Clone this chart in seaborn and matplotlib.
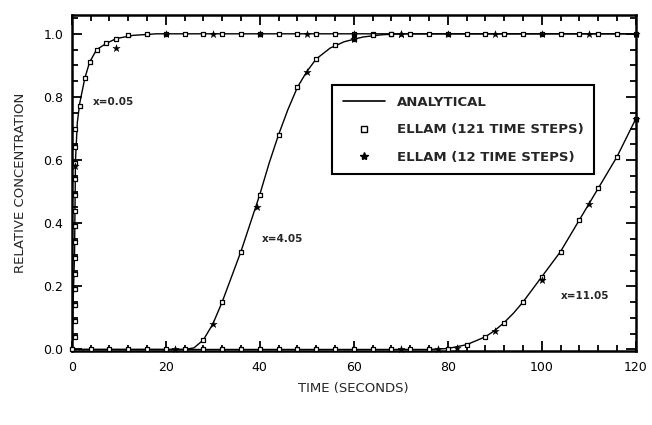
import numpy as np
import pandas as pd
import matplotlib
matplotlib.use("Agg")
import matplotlib.pyplot as plt
import seaborn as sns
from matplotlib.lines import Line2D
from matplotlib.ticker import MultipleLocator

# ---------------- data ----------------
# analytical curves
t_a1 = [0, 0.6, 0.8, 1.2, 1.7, 2.8, 3.8, 5.3, 7.4, 9.5, 13, 18, 120]
c_a1 = [0, 0.30, 0.60, 0.72, 0.78, 0.86, 0.91, 0.95, 0.97, 0.985, 0.995, 1.0, 1.0]

t_a2 = [0, 24, 26, 28, 30, 32, 34, 36, 38, 40, 42, 44, 46, 48, 50, 52, 55, 58, 62, 66, 70, 120]
c_a2 = [0, 0, 0.005, 0.03, 0.08, 0.15, 0.23, 0.31, 0.40, 0.49, 0.59, 0.68, 0.76, 0.83,
        0.88, 0.92, 0.955, 0.975, 0.99, 0.997, 1.0, 1.0]

t_a3 = [0, 76, 80, 84, 88, 90, 92, 94, 96, 98, 100, 102, 104, 106, 108, 110, 112, 114, 116, 118, 120]
c_a3 = [0, 0, 0.003, 0.015, 0.04, 0.06, 0.085, 0.115, 0.15, 0.19, 0.23, 0.27, 0.31, 0.36,
        0.41, 0.46, 0.51, 0.56, 0.61, 0.67, 0.73]

# ELLAM (121 time steps) - open squares
t_sq1 = [0.8, 0.8, 0.8, 0.8, 0.8, 0.8, 0.8, 0.8, 0.8, 0.8, 0.8, 0.8, 0.8, 0.8,
         1.7, 2.8, 3.8, 5.3, 7.4, 9.5, 12, 16, 20, 24, 28, 32, 36, 40, 44, 48, 52,
         56, 60, 64, 68, 72, 76, 80, 84, 88, 92, 96, 100, 104, 108, 112, 116, 120]
c_sq1 = [0.04, 0.09, 0.14, 0.19, 0.24, 0.29, 0.34, 0.39, 0.44, 0.49, 0.54, 0.59, 0.64, 0.70,
         0.77, 0.86, 0.91, 0.95, 0.97, 0.985, 0.995, 1.0, 1.0, 1.0, 1.0, 1.0, 1.0, 1.0, 1.0,
         1.0, 1.0, 1.0, 1.0, 1.0, 1.0, 1.0, 1.0, 1.0, 1.0, 1.0, 1.0, 1.0, 1.0, 1.0, 1.0,
         1.0, 1.0, 1.0]
t_sq2 = [0, 4, 8, 12, 16, 20, 24, 28, 32, 36, 40, 44, 48, 52, 56, 60, 64, 68]
c_sq2 = [0, 0, 0, 0, 0, 0, 0, 0.03, 0.15, 0.31, 0.49, 0.68, 0.83, 0.92, 0.965, 0.985, 0.995, 1.0]
t_sq3 = [28, 32, 36, 40, 44, 48, 52, 56, 60, 64, 68, 72, 76, 80, 84, 88, 92, 96, 100,
         104, 108, 112, 116, 120]
c_sq3 = [0, 0, 0, 0, 0, 0, 0, 0, 0, 0, 0, 0, 0, 0.003, 0.015, 0.04, 0.085, 0.15, 0.23,
         0.31, 0.41, 0.51, 0.61, 0.73]

# ELLAM (12 time steps) - stars
t_st1 = [0.8, 9.5, 20, 30, 40, 50, 60, 70, 80, 90, 100, 110, 120]
c_st1 = [0.58, 0.955, 1.0, 1.0, 1.0, 1.0, 1.0, 1.0, 1.0, 1.0, 1.0, 1.0, 1.0]
t_st2 = [22, 30, 39.5, 50, 60, 70]
c_st2 = [0, 0.08, 0.45, 0.88, 0.985, 1.0]
t_st3 = [70, 78, 82, 90, 100, 110, 120]
c_st3 = [0, 0, 0.005, 0.06, 0.22, 0.46, 0.73]

x_ticks = [0, 20, 40, 60, 80, 100, 120]
y_ticks = [0.0, 0.2, 0.4, 0.6, 0.8, 1.0]

labels = ["x=0.05", "x=4.05", "x=11.05"]
label_pos_t = [4.5, 40.5, 104]
label_pos_c = [0.785, 0.35, 0.17]

# ---------------- build tables ----------------
ana = pd.concat([
    pd.DataFrame({"t": t_a1, "c": c_a1, "curve": labels[0]}),
    pd.DataFrame({"t": t_a2, "c": c_a2, "curve": labels[1]}),
    pd.DataFrame({"t": t_a3, "c": c_a3, "curve": labels[2]}),
])
sq = pd.concat([
    pd.DataFrame({"t": t_sq1, "c": c_sq1}),
    pd.DataFrame({"t": t_sq2, "c": c_sq2}),
    pd.DataFrame({"t": t_sq3, "c": c_sq3}),
])
st = pd.concat([
    pd.DataFrame({"t": t_st1, "c": c_st1}),
    pd.DataFrame({"t": t_st2, "c": c_st2}),
    pd.DataFrame({"t": t_st3, "c": c_st3}),
])

# ---------------- plot ----------------
sns.set_style("ticks")
plt.rcParams["font.family"] = ["DejaVu Sans"]

fig = plt.figure(figsize=(6.52, 4.25), dpi=100)
ax = fig.add_axes([0.110, 0.174, 0.865, 0.791])

sns.lineplot(data=ana, x="t", y="c", units="curve", estimator=None, sort=False,
             ax=ax, color="black", lw=1.0, zorder=2, legend=False)

sns.scatterplot(data=sq, x="t", y="c", ax=ax, marker="s", s=12,
                facecolor="white", edgecolor="black", linewidth=0.9,
                zorder=3, clip_on=False, legend=False)
sns.scatterplot(data=st, x="t", y="c", ax=ax, marker="*", s=30,
                color="black", edgecolor="black", linewidth=0.3,
                zorder=4, clip_on=False, legend=False)

for lab, tt, cc in zip(labels, label_pos_t, label_pos_c):
    ax.text(tt, cc, lab, fontsize=7.5, fontweight="bold", va="center", ha="left")

ax.set_xlim(0, 120)
ax.set_ylim(-0.005, 1.06)
ax.set_xticks(x_ticks)
ax.set_yticks(y_ticks)
ax.set_xticklabels([str(v) for v in x_ticks])
ax.set_yticklabels([f"{v:.1f}" for v in y_ticks])
ax.xaxis.set_minor_locator(MultipleLocator(4))
ax.yaxis.set_minor_locator(MultipleLocator(0.05))
ax.tick_params(which="both", direction="in", top=True, right=True,
               labelsize=9, width=1.3, colors="black")
ax.tick_params(which="major", length=7)
ax.tick_params(which="minor", length=4)
ax.tick_params(axis="x", which="major", pad=7)
ax.tick_params(axis="y", which="major", pad=6)
for sp in ax.spines.values():
    sp.set_linewidth(1.8)
    sp.set_color("black")

ax.set_xlabel("TIME (SECONDS)", fontsize=9.5, labelpad=6)
ax.set_ylabel("RELATIVE CONCENTRATION", fontsize=9.5, labelpad=12)

handles = [
    Line2D([], [], color="black", lw=1.2),
    Line2D([], [], marker="s", ls="none", markerfacecolor="white",
           markeredgecolor="black", markersize=5),
    Line2D([], [], marker="*", ls="none", color="black", markersize=6),
]
leg = ax.legend(handles, ["ANALYTICAL", "ELLAM (121 TIME STEPS)", "ELLAM (12 TIME STEPS)"],
                loc="upper left", bbox_to_anchor=(0.45, 0.81), fancybox=False,
                edgecolor="black", framealpha=1, fontsize=9.5, handlelength=3.2,
                borderpad=0.8, labelspacing=1.1, handletextpad=0.9)
leg.get_frame().set_linewidth(1.5)
for tx in leg.get_texts():
    tx.set_fontweight("bold")

fig.savefig("out.png", dpi=100, facecolor="white")
